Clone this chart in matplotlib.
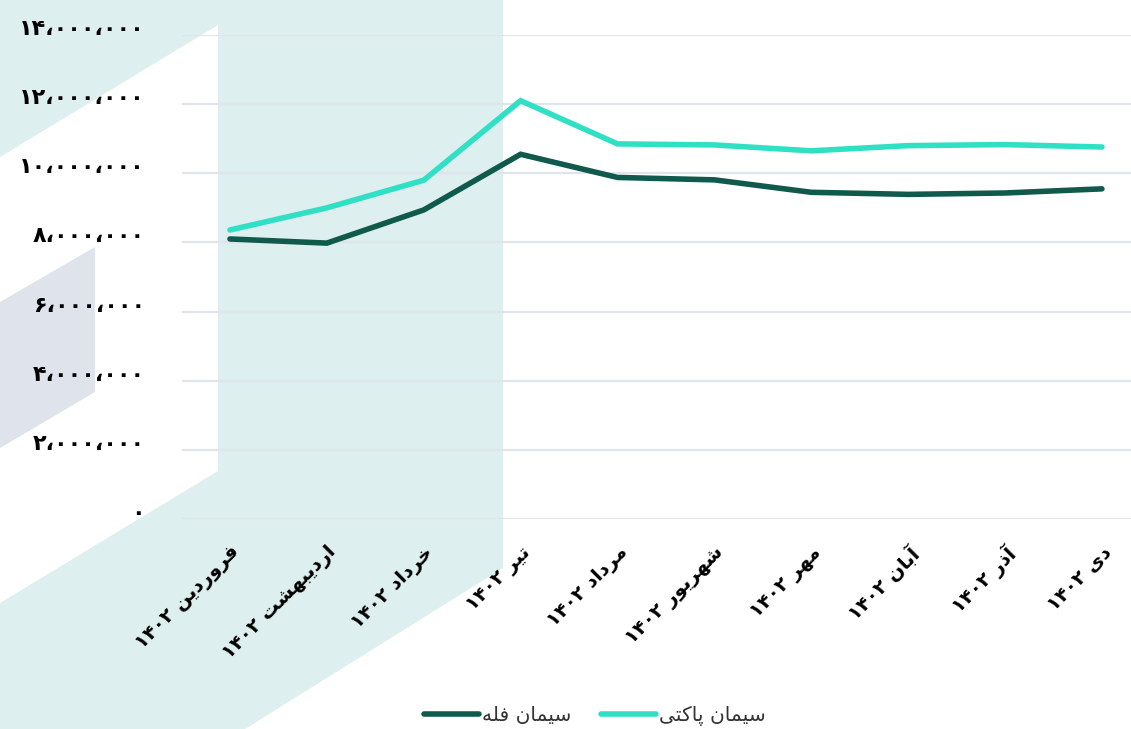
import matplotlib
matplotlib.use("Agg")
import matplotlib.pyplot as plt
from matplotlib.patches import Polygon
from matplotlib.transforms import offset_copy

# داده‌ها
months = ["فروردین ۱۴۰۲", "اردیبهشت ۱۴۰۲", "خرداد ۱۴۰۲", "تیر ۱۴۰۲", "مرداد ۱۴۰۲",
          "شهریور ۱۴۰۲", "مهر ۱۴۰۲", "آبان ۱۴۰۲", "آذر ۱۴۰۲", "دی ۱۴۰۲"]
fale = [8100000, 7980000, 8940000, 10550000, 9880000, 9810000, 9450000, 9390000, 9430000, 9550000]
pakati = [8360000, 9000000, 9800000, 12100000, 10850000, 10820000, 10650000, 10800000, 10830000, 10760000]
series_names = ["سیمان فله", "سیمان پاکتی"]
y_ticks = [0, 2000000, 4000000, 6000000, 8000000, 10000000, 12000000, 14000000]

# شکل‌دهی ساده حروف فارسی (matplotlib خودش شکل‌دهی نمی‌کند)
# (isolated, final, initial, medial)
FORMS = {
    "ا": ("\uFE8D", "\uFE8E", None, None),
    "آ": ("\uFE81", "\uFE82", None, None),
    "ب": ("\uFE8F", "\uFE90", "\uFE91", "\uFE92"),
    "پ": ("\uFB56", "\uFB57", "\uFB58", "\uFB59"),
    "ت": ("\uFE95", "\uFE96", "\uFE97", "\uFE98"),
    "خ": ("\uFEA5", "\uFEA6", "\uFEA7", "\uFEA8"),
    "د": ("\uFEA9", "\uFEAA", None, None),
    "ذ": ("\uFEAB", "\uFEAC", None, None),
    "ر": ("\uFEAD", "\uFEAE", None, None),
    "س": ("\uFEB1", "\uFEB2", "\uFEB3", "\uFEB4"),
    "ش": ("\uFEB5", "\uFEB6", "\uFEB7", "\uFEB8"),
    "ف": ("\uFED1", "\uFED2", "\uFED3", "\uFED4"),
    "ک": ("\uFB8E", "\uFB8F", "\uFB90", "\uFB91"),
    "ل": ("\uFEDD", "\uFEDE", "\uFEDF", "\uFEE0"),
    "م": ("\uFEE1", "\uFEE2", "\uFEE3", "\uFEE4"),
    "ن": ("\uFEE5", "\uFEE6", "\uFEE7", "\uFEE8"),
    "ه": ("\uFEE9", "\uFEEA", "\uFEEB", "\uFEEC"),
    "و": ("\uFEED", "\uFEEE", None, None),
    "ی": ("\uFBFC", "\uFBFD", "\uFBFE", "\uFBFF"),
}


def shape_word(w):
    out = []
    for i, ch in enumerate(w):
        if ch not in FORMS:
            out.append(ch)
            continue
        prev = w[i - 1] if i > 0 else None
        nxt = w[i + 1] if i < len(w) - 1 else None
        join_prev = prev in FORMS and FORMS[prev][2] is not None
        join_next = nxt in FORMS and FORMS[ch][2] is not None
        iso, fin, ini, med = FORMS[ch]
        if join_prev and join_next:
            out.append(med)
        elif join_prev:
            out.append(fin)
        elif join_next:
            out.append(ini)
        else:
            out.append(iso)
    return "".join(out)


def fa(text):
    tokens = text.split(" ")
    vis = []
    for t in reversed(tokens):
        if any(c in FORMS for c in t):
            vis.append(shape_word(t)[::-1])
        else:
            vis.append(t)
    return " ".join(vis)


def fa_num(v):
    s = "{:,}".format(int(v)).replace(",", "،")
    return s.translate(str.maketrans("0123456789", "۰۱۲۳۴۵۶۷۸۹"))


W, H = 1131, 729
fig = plt.figure(figsize=(W / 100, H / 100), dpi=100, facecolor="white")


def px(points):
    return [(x / W, 1 - y / H) for x, y in points]


# اشکال پس‌زمینه
fig.add_artist(Polygon(px([(0, 0), (503, 0), (503, 568), (245, 729), (0, 729)]),
                       closed=True, transform=fig.transFigure, fc="#ddefee", ec="none", zorder=0))
fig.add_artist(Polygon(px([(0, 157), (218, 25), (218, 471), (0, 603)]),
                       closed=True, transform=fig.transFigure, fc="white", ec="none", zorder=0))
fig.add_artist(Polygon(px([(0, 302), (95, 247), (95, 392), (0, 448)]),
                       closed=True, transform=fig.transFigure, fc="#dfe3ec", ec="none", zorder=0))

ax = fig.add_axes([182 / W, 1 - 519 / H, 1 - 182 / W, (519 - 35) / H])
ax.set_facecolor("none")

x = list(range(len(months)))
ax.plot(x, fale, color="#0f5a4c", lw=4, solid_capstyle="round", solid_joinstyle="miter",
        label=fa(series_names[0]), zorder=3)
ax.plot(x, pakati, color="#2fe0c5", lw=4, solid_capstyle="round", solid_joinstyle="miter",
        label=fa(series_names[1]), zorder=3)

ax.set_xlim(-0.495, 9.30)
ax.set_ylim(0, 14000000)
ax.set_yticks(y_ticks)
ax.set_yticklabels([])
ax.grid(axis="y", color="#e1e5eb", lw=1.6)
ax.set_axisbelow(True)
for s in ax.spines.values():
    s.set_visible(False)
ax.tick_params(axis="y", length=0)
ax.tick_params(axis="x", length=0, pad=17, labelsize=14)

# برچسب‌های محور y کمی بالاتر از خطوط شبکه
ytrans = offset_copy(ax.get_yaxis_transform(), fig=fig, x=2, y=6, units="dots")
for v in y_ticks:
    ax.text(-0.0411, v, fa_num(v), transform=ytrans, ha="right", va="center",
            fontsize=16, fontweight="bold", color="black", clip_on=False)

ax.set_xticks(x)
ax.set_xticklabels([fa(m) for m in months], rotation=45, ha="right", va="top",
                   rotation_mode="anchor", fontweight="bold")

fig.legend(loc="center", bbox_to_anchor=(0.526, 0.018), ncol=2, frameon=False,
           fontsize=14.5, handlelength=2.75, handletextpad=0.15, columnspacing=1.45,
           labelcolor="#333333")

fig.savefig("out.png", dpi=100, facecolor="white")
